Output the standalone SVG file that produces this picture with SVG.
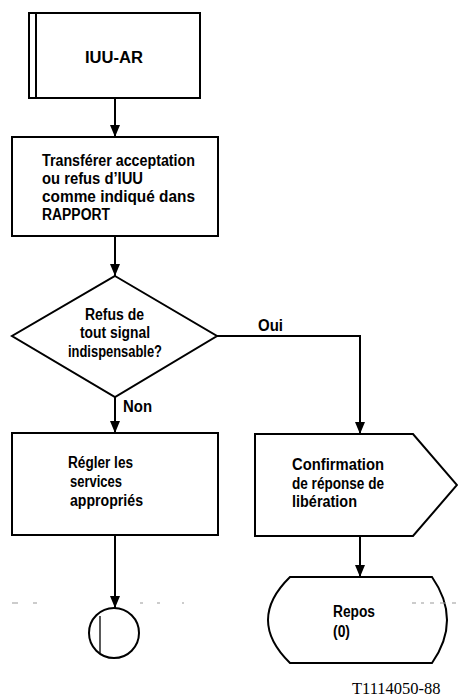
<svg xmlns="http://www.w3.org/2000/svg" width="458" height="700" viewBox="0 0 458 700">
<style>
.shape{fill:#fff;stroke:#000;stroke-width:2;stroke-linejoin:miter}
.conn{fill:none;stroke:#000;stroke-width:2}
.thin{fill:none;stroke:#000;stroke-width:1.3}
.t{font-family:"Liberation Sans",Arial,sans-serif;font-weight:bold;font-size:16px;fill:#000}
.id{font-family:"Liberation Serif","Times New Roman",serif;font-size:16.5px;fill:#000}
.dash{stroke:#999;stroke-width:1}
</style>
<defs>
<marker id="arr" markerUnits="userSpaceOnUse" markerWidth="12" markerHeight="10" refX="12" refY="5" orient="auto">
<path d="M0,0 L12,5 L0,10 Z" fill="#000"/>
</marker>
</defs>
<rect width="458" height="700" fill="#fff"/>
<g id="connectors">
<line class="conn" x1="115" y1="98" x2="115" y2="137" marker-end="url(#arr)"/>
<line class="conn" x1="115" y1="236" x2="115" y2="276" marker-end="url(#arr)"/>
<line class="conn" x1="115" y1="397" x2="115" y2="433" marker-end="url(#arr)"/>
<polyline class="conn" points="217,336 360,336 360,434" marker-end="url(#arr)"/>
<line class="conn" x1="115" y1="535" x2="115" y2="608" marker-end="url(#arr)"/>
<line class="conn" x1="360" y1="536" x2="360" y2="577" marker-end="url(#arr)"/>
<text class="t" x="258" y="331" textLength="25" lengthAdjust="spacingAndGlyphs">Oui</text>
<text class="t" x="123" y="412" textLength="29" lengthAdjust="spacingAndGlyphs">Non</text>
</g>
<g id="n-iuu-ar">
<rect class="shape" x="29" y="13" width="171" height="85"/>
<line class="conn" x1="36" y1="13" x2="36" y2="98"/>
<text class="t" x="85" y="63" textLength="58" lengthAdjust="spacingAndGlyphs">IUU-AR</text>
</g>
<g id="n-transferer">
<rect class="shape" x="12" y="137" width="206" height="99"/>
<text class="t" x="42" y="166" textLength="153" lengthAdjust="spacingAndGlyphs">Transférer acceptation</text>
<text class="t" x="42" y="184" textLength="101" lengthAdjust="spacingAndGlyphs">ou refus d’IUU</text>
<text class="t" x="42" y="202" textLength="153" lengthAdjust="spacingAndGlyphs">comme indiqué dans</text>
<text class="t" x="42" y="220" textLength="68" lengthAdjust="spacingAndGlyphs">RAPPORT</text>
</g>
<g id="n-decision">
<path class="shape" d="M115,276 L217,336 L115,397 L12,336 Z"/>
<text class="t" x="85" y="320" textLength="59" lengthAdjust="spacingAndGlyphs">Refus de</text>
<text class="t" x="80" y="338" textLength="70" lengthAdjust="spacingAndGlyphs">tout signal</text>
<text class="t" x="68" y="357" textLength="94" lengthAdjust="spacingAndGlyphs">indispensable?</text>
</g>
<g id="n-regler">
<rect class="shape" x="12" y="433" width="206" height="102"/>
<text class="t" x="68" y="468" textLength="65" lengthAdjust="spacingAndGlyphs">Régler les</text>
<text class="t" x="70" y="487" textLength="52" lengthAdjust="spacingAndGlyphs">services</text>
<text class="t" x="70" y="506" textLength="73" lengthAdjust="spacingAndGlyphs">appropriés</text>
</g>
<g id="n-confirmation">
<path class="shape" d="M255,434 L413,434 L457,485 L413,536 L255,536 Z"/>
<text class="t" x="292" y="470" textLength="92" lengthAdjust="spacingAndGlyphs">Confirmation</text>
<text class="t" x="292" y="489" textLength="92" lengthAdjust="spacingAndGlyphs">de réponse de</text>
<text class="t" x="292" y="507" textLength="65" lengthAdjust="spacingAndGlyphs">libération</text>
</g>
<g id="n-connector">
<circle class="shape" cx="114" cy="633" r="25"/>
<line class="thin" x1="100" y1="616" x2="100" y2="653"/>
</g>
<g id="n-repos">
<path class="shape" d="M290,577 L432,577 Q462,620 432,663 L290,663 Q246,620 290,577 Z"/>
<text class="t" x="333" y="617" textLength="42" lengthAdjust="spacingAndGlyphs">Repos</text>
<text class="t" x="333" y="637" textLength="17" lengthAdjust="spacingAndGlyphs">(0)</text>
</g>
<g id="artifacts">
<line class="dash" x1="12" y1="603" x2="18" y2="603"/>
<line class="dash" x1="33" y1="603" x2="37" y2="603"/>
<line class="dash" x1="140" y1="603" x2="143" y2="603"/>
<line class="dash" x1="157" y1="603" x2="160" y2="603"/>
<line class="dash" x1="182" y1="603" x2="184" y2="603"/>
<line class="dash" x1="412" y1="603" x2="416" y2="603"/>
<line class="dash" x1="421" y1="603" x2="424" y2="603"/>
<line class="dash" x1="430" y1="603" x2="434" y2="603"/>
<line class="dash" x1="440" y1="603" x2="446" y2="603"/>
<line class="dash" x1="452" y1="603" x2="456" y2="603"/>
</g>
<text class="id" x="352" y="694">T1114050-88</text>
</svg>
